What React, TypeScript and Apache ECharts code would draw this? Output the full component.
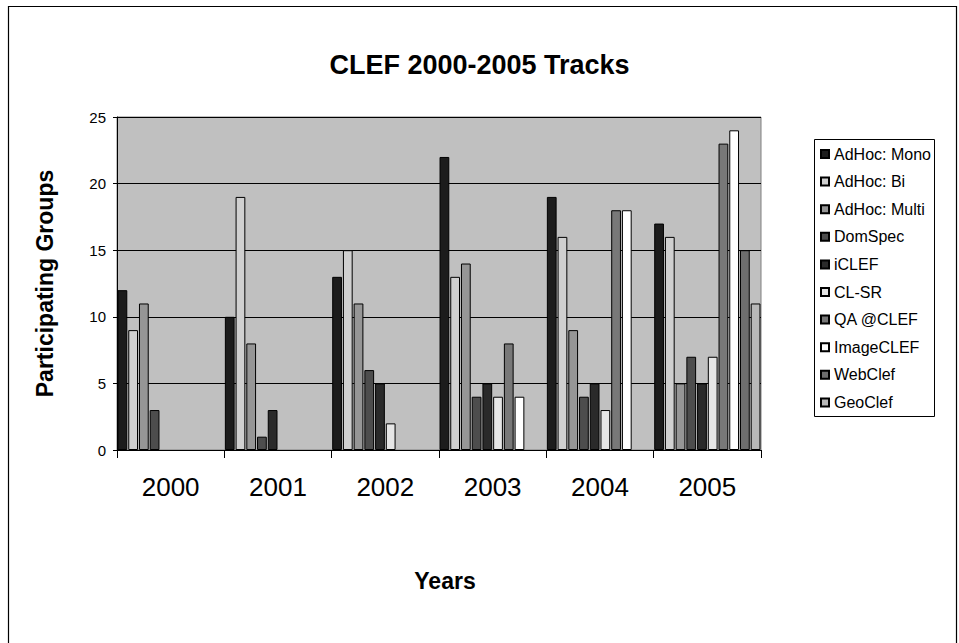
import React, { useEffect, useRef } from "react";
import * as echarts from "echarts";

const years = ["2000", "2001", "2002", "2003", "2004", "2005"];
const seriesNames = [
  "AdHoc: Mono",
  "AdHoc: Bi",
  "AdHoc: Multi",
  "DomSpec",
  "iCLEF",
  "CL-SR",
  "QA @CLEF",
  "ImageCLEF",
  "WebClef",
  "GeoClef",
];
const adhocMono = [12, 10, 13, 22, 19, 17];
const adhocBi = [9, 19, 15, 13, 16, 16];
const adhocMulti = [11, 8, 11, 14, 9, 5];
const domSpec = [3, 1, 6, 4, 4, 7];
const iclef = [0, 3, 5, 5, 5, 5];
const clsr = [0, 0, 2, 4, 3, 7];
const qaclef = [0, 0, 0, 8, 18, 23];
const imageclef = [0, 0, 0, 4, 18, 24];
const webclef = [0, 0, 0, 0, 0, 15];
const geoclef = [0, 0, 0, 0, 0, 11];
const seriesValues = [adhocMono, adhocBi, adhocMulti, domSpec, iclef, clsr, qaclef, imageclef, webclef, geoclef];
const colors = ["#1c1c1c", "#d0d0d0", "#969696", "#4d4d4d", "#2a2a2a", "#e6e6e6", "#787878", "#ffffff", "#6e6e6e", "#b8b8b8"];
const yTicks = [0, 5, 10, 15, 20, 25];

const FONT = "'Liberation Sans', Arial, sans-serif";

export default function App() {
  const ref = useRef<HTMLDivElement>(null);
  useEffect(() => {
    if (!ref.current) return;
    const chart = echarts.init(ref.current, undefined, { renderer: "svg" });
    chart.setOption({
      animation: false,
      backgroundColor: "#ffffff",
      textStyle: { fontFamily: FONT },
      title: {
        text: "CLEF 2000-2005 Tracks",
        left: "center",
        top: 51,
        padding: 0,
        textStyle: { fontFamily: FONT, fontSize: 27, fontWeight: "bold", color: "#000" },
      },
      graphic: [
        {
          type: "rect",
          shape: { x: 8.5, y: 6.5, width: 948, height: 700 },
          style: { fill: "none", stroke: "#000", lineWidth: 1.2 },
          silent: true,
        },
        {
          type: "rect",
          shape: { x: 814.5, y: 139.5, width: 120, height: 277 },
          style: { fill: "#fff", stroke: "#000", lineWidth: 1 },
          silent: true,
          z: -1,
        },
      ],
      legend: {
        orient: "vertical",
        left: 820,
        top: 146,
        padding: 0,
        itemWidth: 8,
        itemHeight: 8,
        itemGap: 11.6,
        icon: "rect",
        data: seriesNames,
        textStyle: { fontFamily: FONT, fontSize: 16, color: "#000", lineHeight: 16 },
      },
      grid: {
        left: 117,
        top: 117,
        right: 198,
        bottom: 193,
        show: true,
        backgroundColor: "#c0c0c0",
        borderColor: "#808080",
        borderWidth: 1,
      },
      xAxis: {
        type: "category",
        data: years,
        name: "Years",
        nameLocation: "middle",
        nameGap: 119,
        nameTextStyle: { fontFamily: FONT, fontSize: 23, fontWeight: "bold", color: "#000", padding: [0, 0, 0, 12] },
        axisLine: { lineStyle: { color: "#000", width: 1 } },
        axisTick: { show: true, length: 8, lineStyle: { color: "#000" } },
        axisLabel: { fontFamily: FONT, fontSize: 26, color: "#000", margin: 24 },
        splitLine: { show: false },
      },
      yAxis: {
        type: "value",
        min: yTicks[0],
        max: yTicks[yTicks.length - 1],
        interval: 5,
        name: "Participating Groups",
        nameLocation: "middle",
        nameGap: 61,
        nameTextStyle: { fontFamily: FONT, fontSize: 23, fontWeight: "bold", color: "#000" },
        axisLine: { show: true, lineStyle: { color: "#000", width: 1 } },
        axisTick: { show: true, length: 4, lineStyle: { color: "#000" } },
        axisLabel: { fontFamily: FONT, fontSize: 15, color: "#000", margin: 11 },
        splitLine: { show: true, lineStyle: { color: "#000", width: 1 } },
      },
      series: seriesNames.map((name, i) => ({
        name,
        type: "bar",
        data: seriesValues[i].map((v) => (v === 0 ? { value: v, itemStyle: { borderWidth: 0 } } : v)),
        barCategoryGap: "1%",
        barGap: "10%",
        itemStyle: { color: colors[i], borderColor: "#000", borderWidth: 1 },
      })),
    });
    return () => chart.dispose();
  }, []);
  return <div ref={ref} style={{ position: "absolute", left: 0, top: 0, width: 959, height: 643 }} />;
}
